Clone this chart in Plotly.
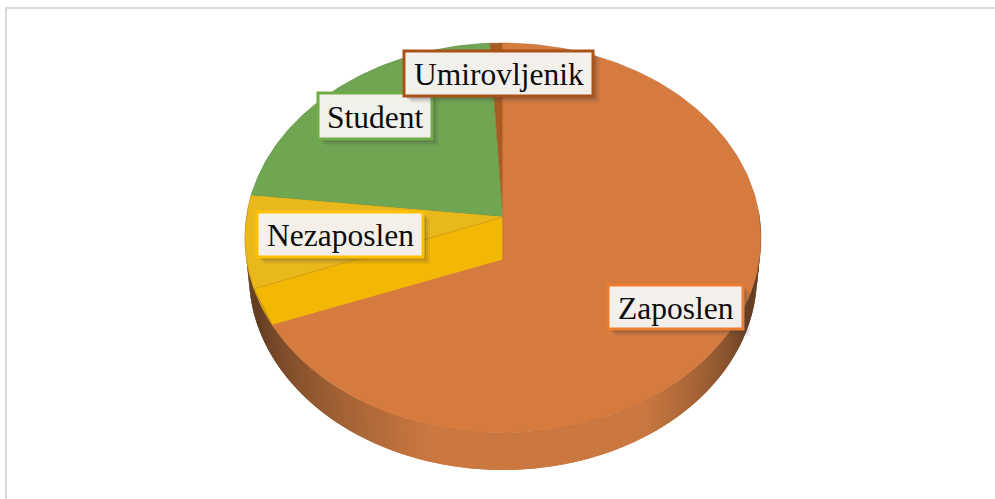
import numpy as np
import plotly.graph_objects as go

categories = ["Zaposlen", "Nezaposlen", "Student", "Umirovljenik"]
values = [66.1, 10.7, 22.3, 0.9]
slice_colors = ["#d67b40", "#f3b706", "#70a552", "#a95b24"]
border_colors = ["#ed7d31", "#ffc000", "#70ad47", "#a9521a"]

# Projection of the pie disc on the page
X0, Y0, SX, SY, PERSP = 503.0, 217.0, 256.5, 192.7, 0.1077
DEPTH = 37.0
LIP = 43.0       # how far the leading slice's inner corner drops
SEAM_DEG = 249.0 # where the top face of the second slice meets its inner wall


def rim(deg, scale=1.0, dy=0.0):
    a = np.radians(np.atleast_1d(deg))
    px, py = np.sin(a), np.cos(a)
    w = 1 + PERSP * py
    return X0 + scale * SX * px / w, Y0 - SY * py / w + dy


def arc(a, b, n=90):
    return np.linspace(a, b, n)


def poly(xs, ys, fill, line=None, lw=0.0):
    return go.Scatter(
        x=list(xs), y=list(ys), mode="lines", fill="toself", fillcolor=fill,
        line=dict(color=line or fill, width=lw), hoverinfo="skip", showlegend=False,
    )


def mix(c1, c2, t):
    t = float(np.clip(t, 0, 1))
    return "rgb(%d,%d,%d)" % tuple(round(c1[i] + (c2[i] - c1[i]) * t) for i in range(3))


edges = np.concatenate([[0], np.cumsum(values)]) * 3.6
fig = go.Figure()

# Drum side
dark, mid = (100, 62, 35), (202, 120, 64)
side = np.linspace(88, 258, 171)
for a, b in zip(side[:-1], side[1:]):
    c = (a + b) / 2
    if c < 170:
        col = mix(dark, mid, (c - 110) / 40)
    else:
        col = mix(mid, dark, (c - 195) / 52)
    seg = np.array([a, b + 1.0])
    tx, ty = rim(seg)
    bx, by = rim(seg[::-1], 0.985, DEPTH)
    fig.add_trace(poly(np.r_[tx, bx], np.r_[ty, by], col))

# Student
xa, ya = rim(arc(edges[2], edges[3]))
fig.add_trace(poly(np.r_[X0, xa], np.r_[Y0, ya], slice_colors[2], "#5f8f45", 0.8))
# Umirovljenik
xa, ya = rim(arc(edges[3], edges[4], 8))
fig.add_trace(poly(np.r_[X0, xa], np.r_[Y0, ya], slice_colors[3], "#93501f", 0.5))
# Nezaposlen: inner wall and top face
xa, ya = rim(arc(edges[1], edges[2]))
fig.add_trace(poly(np.r_[X0, xa, X0], np.r_[Y0 + LIP, ya, Y0], slice_colors[1], "#c9971a", 0.5))
xa, ya = rim(arc(SEAM_DEG, edges[2]))
fig.add_trace(poly(np.r_[X0, xa], np.r_[Y0, ya], "#e9b91c", "#c9971a", 0.7))
xl, yl = rim(SEAM_DEG)
xe, ye = rim(edges[1])
fig.add_trace(go.Scatter(x=[xl[0], xe[0]], y=[yl[0], ye[0]], mode="lines",
                         line=dict(color="#b58d12", width=1),
                         hoverinfo="skip", showlegend=False))
# Zaposlen
xa, ya = rim(arc(edges[0], edges[1], 200))
fig.add_trace(poly(np.r_[X0, xa], np.r_[Y0 + LIP, ya], slice_colors[0], "#b8652c", 0.5))
fig.add_trace(go.Scatter(x=[X0, X0, xe[0]], y=[rim(0)[1][0], Y0 + LIP, ye[0]], mode="lines",
                         line=dict(color=slice_colors[0], width=1.2),
                         hoverinfo="skip", showlegend=False))

# Chart frame
shapes = [
    dict(type="line", x0=5, x1=995, y0=8, y1=8, line=dict(color="#d9d9d9", width=2)),
    dict(type="line", x0=6, x1=6, y0=7, y1=499, line=dict(color="#d9d9d9", width=2)),
]

# Data labels: box left, top, right, bottom on the page
label_boxes = [(608, 285, 743, 329), (257, 212, 423, 257), (318, 93, 432, 139), (404, 51, 593, 96)]
annotations = []
for name, box, col in zip(categories, label_boxes, border_colors):
    l, t, r, b = box
    for off, op in ((7, 0.08), (5, 0.12), (3, 0.18)):
        shapes.append(dict(type="rect", x0=l + off, x1=r + off, y0=t + off, y1=b + off,
                           line=dict(width=0), fillcolor="#3a3a3a", opacity=op))
    shapes.append(dict(type="rect", x0=l, x1=r, y0=t, y1=b, fillcolor="rgba(246,244,240,0.97)",
                       line=dict(color=col, width=3)))
    annotations.append(dict(x=(l + r) / 2, y=(t + b) / 2 + 1, text=name, showarrow=False,
                            xref="x", yref="y", xanchor="center", yanchor="middle",
                            font=dict(family="Liberation Serif", size=31.5, color="#0d0d0d")))

fig.update_layout(
    width=995, height=499, margin=dict(l=0, r=0, t=0, b=0),
    paper_bgcolor="white", plot_bgcolor="white", showlegend=False,
    shapes=shapes, annotations=annotations,
    xaxis=dict(range=[0, 995], visible=False, fixedrange=True),
    yaxis=dict(range=[499, 0], visible=False, fixedrange=True),
)
fig.write_html("out.html", post_script="document.body.style.margin='0';",
               config={"displayModeBar": False})
